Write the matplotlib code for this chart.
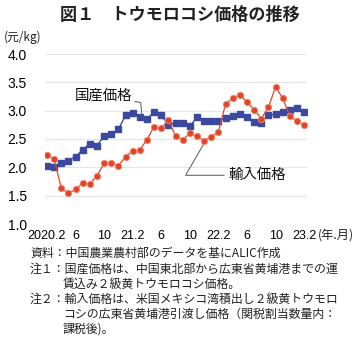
import matplotlib
matplotlib.use("Agg")
import matplotlib.pyplot as plt

plt.rcParams['font.family'] = ['Noto Sans CJK JP', 'DejaVu Sans']

months = list(range(37))  # 2020.2 .. 2023.2
domestic = [2.02, 2.00, 2.07, 2.12, 2.19, 2.31, 2.42, 2.38, 2.56, 2.58, 2.67, 2.92,
            2.96, 2.88, 2.85, 2.98, 2.92, 2.75, 2.79, 2.78, 2.73, 2.88, 2.82, 2.81,
            2.81, 2.87, 2.91, 2.94, 2.88, 2.80, 2.79, 2.92, 2.94, 2.98, 3.02, 3.05, 2.98]
imported = [2.22, 2.15, 1.63, 1.54, 1.61, 1.72, 1.71, 1.85, 2.07, 2.08, 2.03, 2.19,
            2.29, 2.31, 2.49, 2.72, 2.69, 2.83, 2.55, 2.49, 2.60, 2.55, 2.47, 2.54,
            2.63, 3.12, 3.22, 3.28, 3.15, 3.02, 2.86, 3.06, 3.42, 3.22, 2.90, 2.82, 2.75]
tick_pos = [0, 4, 8, 12, 16, 20, 24, 28, 32, 36]
tick_labels = ["2020.2", "6", "10", "21.2", "6", "10", "22.2", "6", "10", "23.2"]
yticks = [1.0, 1.5, 2.0, 2.5, 3.0, 3.5, 4.0]

W, H = 360, 352
fig = plt.figure(figsize=(W / 100, H / 100), dpi=100)
ax = fig.add_axes([45 / W, 1 - 224 / H, (307 - 45) / W, (224 - 54) / H])

blue = '#3b4a9e'
red = '#e0452c'
ax.plot(months, domestic, color=blue, lw=1.0, marker='s', ms=4.6,
        mfc=blue, mec=blue, zorder=3)
ax.plot(months, imported, color=red, lw=0.9, marker='o', ms=4.6,
        mfc=red, mec='#f08a70', mew=0.6, zorder=4)

ax.set_xlim(-0.28, 36.4)
ax.set_ylim(1.0, 4.0)
ax.set_yticks(yticks)
ax.set_yticklabels([f"{v:.1f}" for v in yticks], fontsize=10, family='Liberation Sans')
ax.set_xticks(tick_pos)
ax.set_xticklabels(tick_labels, fontsize=9, family='Liberation Sans')
ax.tick_params(length=0, pad=4)
ax.tick_params(axis='y', pad=13)
ax.grid(axis='y', color='#e6e6e6', lw=0.8)
ax.set_axisbelow(True)
for s in ax.spines.values():
    s.set_visible(False)

fig.text(318 / W, 1 - 235 / H, "(年.月)", ha='left', va='center', fontsize=8.8,
         color='#222222')

# annotations
ax.annotate("国産価格", xy=(13.3, 2.88), xytext=(11.9, 3.26),
            fontsize=10.4, ha='right', va='center', color='#111111',
            arrowprops=dict(arrowstyle='-', color='#555555', lw=0.7,
                            connectionstyle='angle,angleA=-10,angleB=95,rad=0',
                            shrinkA=0, shrinkB=3))
ax.annotate("輸入価格", xy=(22.2, 2.47), xytext=(25.4, 1.86),
            fontsize=10.4, ha='left', va='center', color='#111111',
            arrowprops=dict(arrowstyle='-', color='#555555', lw=0.7,
                            connectionstyle='angle,angleA=0,angleB=60,rad=0',
                            shrinkA=1, shrinkB=3))

fig.text(180 / W, 1 - 15 / H, "図１　トウモロコシ価格の推移", ha='center', va='center',
         fontsize=12.3, fontweight='bold', color='#222222')
fig.text(4 / W, 1 - 37 / H, "(元/kg)", ha='left', va='center', fontsize=8.5,
         color='#222222')

notes = [
    (30, 253, "資料：中国農業農村部のデータを基にALIC作成"),
    (30, 269, "注１：国産価格は、中国東北部から広東省黄埔港までの運"),
    (63, 284, "賃込み２級黄トウモロコシ価格。"),
    (30, 299, "注２：輸入価格は、米国メキシコ湾積出し２級黄トウモロ"),
    (63, 314, "コシの広東省黄埔港引渡し価格（関税割当数量内："),
    (63, 329, "課税後)。"),
]
for x, y, s in notes:
    fig.text(x / W, 1 - y / H, s, ha='left', va='center', fontsize=8.6,
             color='#222222')

fig.savefig("out.png", dpi=100)
